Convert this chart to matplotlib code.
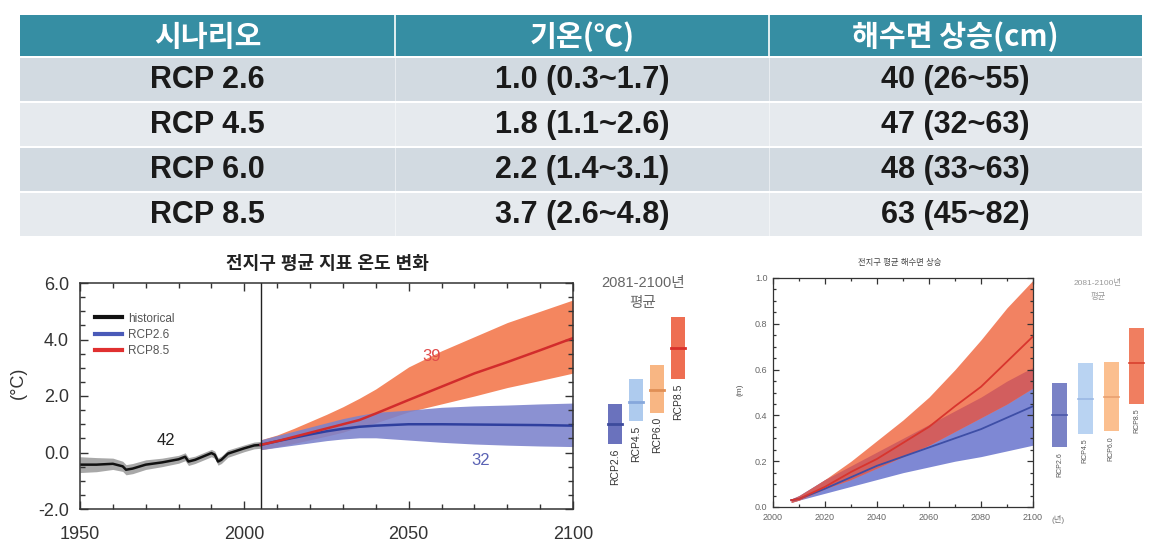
import matplotlib
matplotlib.use("Agg")
from matplotlib import pyplot as plt
from matplotlib.patches import Rectangle
from matplotlib.ticker import MultipleLocator, FormatStrFormatter
import numpy as np

plt.rcParams['font.family'] = ['Liberation Sans', 'Noto Sans CJK KR', 'DejaVu Sans']

W, H = 1171, 544

# table data
headers = ['시나리오', '기온(℃)', '해수면 상승(cm)']
scenarios = ['RCP 2.6', 'RCP 4.5', 'RCP 6.0', 'RCP 8.5']
temp_mean = [1.0, 1.8, 2.2, 3.7]
temp_lo = [0.3, 1.1, 1.4, 2.6]
temp_hi = [1.7, 2.6, 3.1, 4.8]
sea_mean = [40, 47, 48, 63]
sea_lo = [26, 32, 33, 45]
sea_hi = [55, 63, 63, 82]

bar_labels = ['RCP2.6', 'RCP4.5', 'RCP6.0', 'RCP8.5']

# temperature chart
hist_years = [1950, 1955, 1960, 1963, 1964, 1966, 1970, 1975, 1980, 1982, 1983, 1985,
              1990, 1991, 1992, 1993, 1995, 2000, 2003, 2005]
hist_mean = [-0.43, -0.43, -0.40, -0.49, -0.61, -0.57, -0.43, -0.35, -0.24, -0.15, -0.32, -0.26,
             -0.02, -0.08, -0.32, -0.26, -0.04, 0.15, 0.25, 0.27]
hist_lo = [-0.71, -0.68, -0.60, -0.67, -0.79, -0.75, -0.60, -0.50, -0.38, -0.29, -0.46, -0.39,
           -0.15, -0.21, -0.45, -0.39, -0.17, 0.03, 0.13, 0.15]
hist_hi = [-0.15, -0.18, -0.20, -0.31, -0.43, -0.39, -0.26, -0.20, -0.10, -0.01, -0.18, -0.13,
           0.11, 0.05, -0.19, -0.13, 0.09, 0.27, 0.37, 0.39]

proj_years = [2005, 2010, 2015, 2020, 2025, 2030, 2035, 2040, 2050, 2060, 2070, 2080, 2090, 2100]
rcp85_mean = [0.27, 0.40, 0.55, 0.70, 0.85, 1.00, 1.15, 1.38, 1.86, 2.33, 2.80, 3.20, 3.62, 4.05]
rcp85_hi = [0.45, 0.62, 0.85, 1.10, 1.35, 1.62, 1.92, 2.25, 3.03, 3.60, 4.10, 4.60, 5.00, 5.40]
rcp85_lo = [0.10, 0.20, 0.32, 0.45, 0.58, 0.72, 0.91, 1.05, 1.44, 1.72, 2.00, 2.30, 2.55, 2.81]
rcp26_mean = [0.27, 0.40, 0.52, 0.64, 0.75, 0.84, 0.91, 0.95, 1.00, 1.00, 0.99, 0.98, 0.97, 0.95]
rcp26_hi = [0.45, 0.60, 0.75, 0.90, 1.05, 1.20, 1.32, 1.42, 1.50, 1.60, 1.65, 1.68, 1.72, 1.75]
rcp26_lo = [0.10, 0.18, 0.26, 0.34, 0.42, 0.48, 0.52, 0.52, 0.44, 0.36, 0.30, 0.26, 0.23, 0.21]

# sea level chart
sl_years = [2007, 2010, 2020, 2030, 2040, 2050, 2060, 2070, 2080, 2090, 2100]
sl85_mean = [0.03, 0.035, 0.088, 0.153, 0.21, 0.28, 0.35, 0.44, 0.525, 0.635, 0.745]
sl85_hi = [0.035, 0.045, 0.12, 0.20, 0.29, 0.38, 0.48, 0.60, 0.73, 0.87, 0.99]
sl85_lo = [0.02, 0.03, 0.08, 0.12, 0.17, 0.22, 0.27, 0.33, 0.39, 0.45, 0.52]
sl26_mean = [0.03, 0.035, 0.08, 0.13, 0.18, 0.22, 0.26, 0.30, 0.34, 0.39, 0.44]
sl26_hi = [0.035, 0.05, 0.12, 0.18, 0.24, 0.30, 0.36, 0.42, 0.48, 0.55, 0.61]
sl26_lo = [0.02, 0.03, 0.06, 0.09, 0.12, 0.15, 0.175, 0.20, 0.22, 0.245, 0.27]
sl_bar_mean = [0.40, 0.47, 0.48, 0.63]
sl_bar_lo = [0.26, 0.32, 0.33, 0.45]
sl_bar_hi = [0.54, 0.63, 0.635, 0.78]

fig = plt.figure(figsize=(W / 100, H / 100), dpi=100)
fig.patch.set_facecolor('white')


def px_axes(x0, y0, x1, y1):
    return fig.add_axes([x0 / W, 1 - y1 / H, (x1 - x0) / W, (y1 - y0) / H])


def px_text(x, y, s, **kw):
    fig.text(x / W, 1 - y / H, s, **kw)


# ---- table ----
tab = px_axes(0, 0, W, H)
tab.set_xlim(0, W)
tab.set_ylim(H, 0)
tab.axis('off')

col_edges = [20, 395, 769, 1142]
col_centers = [(col_edges[i] + col_edges[i + 1]) / 2 for i in range(3)]
tab.add_patch(Rectangle((20, 15), 1122, 41, color='#368ea3', lw=0))
row_colors = ['#d2dae1', '#e6eaee', '#d2dae1', '#e6eaee']
for i in range(4):
    tab.add_patch(Rectangle((20, 58 + 45 * i), 1122, 43, color=row_colors[i], lw=0))
for xe in col_edges[1:3]:
    tab.plot([xe, xe], [15, 56], color='white', lw=1.2)
    tab.plot([xe, xe], [58, 236], color='white', lw=0.6, alpha=0.6)

for j, h in enumerate(headers):
    tab.text(col_centers[j], 37, h, ha='center', va='center', color='white',
             fontsize=21, fontweight='black', family=['Noto Sans CJK KR', 'DejaVu Sans'])

for i in range(4):
    y = 80 + 45 * i
    cells = [scenarios[i],
             f'{temp_mean[i]:.1f} ({temp_lo[i]:.1f}~{temp_hi[i]:.1f})',
             f'{sea_mean[i]} ({sea_lo[i]}~{sea_hi[i]})']
    for j, c in enumerate(cells):
        tab.text(col_centers[j], y, c, ha='center', va='center', color='#1a1a1a',
                 fontsize=22, fontweight='bold')

# ---- temperature chart ----
ax1 = px_axes(80, 283, 573, 509)
ax1.fill_between(hist_years, hist_lo, hist_hi, color='#a8a8a8', lw=0)
ax1.fill_between(proj_years, rcp85_lo, rcp85_hi, color='#f4865f', lw=0)
ax1.fill_between(proj_years, rcp26_lo, rcp26_hi, color='#7b82cc', alpha=0.88, lw=0)
ax1.plot(hist_years, hist_mean, color='#111111', lw=1.8)
ax1.plot(proj_years, rcp26_mean, color='#2f3f9e', lw=1.8)
ax1.plot(proj_years, rcp85_mean, color='#d22c2c', lw=1.8)
ax1.axvline(2005, color='#222222', lw=1)

ax1.plot([], [], color='#111111', lw=3, label='historical')
ax1.plot([], [], color='#4a5ab8', lw=3, label='RCP2.6')
ax1.plot([], [], color='#e03030', lw=3, label='RCP8.5')
hs, ls = ax1.get_legend_handles_labels()
ax1.legend(hs[-3:], ls[-3:], loc='upper left', bbox_to_anchor=(0.02, 0.89), frameon=False,
           fontsize=8.5, labelcolor='#555555', handlelength=2.3, handletextpad=0.5,
           labelspacing=0.35, borderaxespad=0)

ax1.text(1976, 0.44, '42', fontsize=12, color='#222222', ha='center', va='center')
ax1.text(2057, 3.4, '39', fontsize=12, color='#e04a4a', ha='center', va='center')
ax1.text(2072, -0.27, '32', fontsize=12, color='#5a62b4', ha='center', va='center')

ax1.set_xlim(1950, 2100)
ax1.set_ylim(-2, 6)
ax1.xaxis.set_major_locator(MultipleLocator(50))
ax1.xaxis.set_minor_locator(MultipleLocator(10))
ax1.yaxis.set_major_locator(MultipleLocator(2))
ax1.yaxis.set_minor_locator(MultipleLocator(0.5))
ax1.yaxis.set_major_formatter(FormatStrFormatter('%.1f'))
ax1.tick_params(which='both', direction='in', top=True, right=True, color='#333333', width=1)
ax1.tick_params(which='major', length=6, labelsize=13, labelcolor='#333333')
ax1.tick_params(axis='x', which='major', pad=12)
ax1.tick_params(axis='y', which='major', pad=8)
ax1.tick_params(which='minor', length=3.5)
for s in ax1.spines.values():
    s.set_color('#333333')
    s.set_linewidth(1.1)

px_text(327, 265, '전지구 평균 지표 온도 변화', ha='center', va='center', fontsize=13,
        fontweight='bold', color='#222222')
px_text(18, 383, '(°C)', ha='center', va='center', rotation=90, fontsize=13, color='#333333')

# side bars, temperature
bar_col1 = ['#6a72bd', '#aecbee', '#f8b683', '#ee6e52']
mean_col1 = ['#3d4b9c', '#86a8dc', '#e08f55', '#d9302a']
sb1 = px_axes(604.5, 283, 688.5, 509)
sb1.set_xlim(-0.5, 3.5)
sb1.set_ylim(-2, 6)
sb1.axis('off')
for i in range(4):
    sb1.bar(i, temp_hi[i] - temp_lo[i], bottom=temp_lo[i], width=0.67, color=bar_col1[i], lw=0)
    sb1.plot([i - 0.335, i + 0.335], [temp_mean[i], temp_mean[i]], color=mean_col1[i], lw=2)
    sb1.text(i, temp_lo[i] - 0.15, bar_labels[i], rotation=90, ha='center', va='top',
             fontsize=7.5, color='#333333')
px_text(643, 283, '2081-2100년', ha='center', va='center', fontsize=10.5, color='#666666')
px_text(643, 303, '평균', ha='center', va='center', fontsize=10.5, color='#666666')

# ---- sea level chart ----
ax2 = px_axes(773, 278, 1033, 507)
ax2.fill_between(sl_years, sl26_lo, sl26_hi, color='#7e88d4', lw=0)
ax2.fill_between(sl_years, sl85_lo, sl85_hi, color='#f28262', lw=0)
ax2.fill_between(sl_years, sl85_lo, sl26_hi, where=np.array(sl26_hi) > np.array(sl85_lo),
                 color='#d25e5e', lw=0, interpolate=True)
ax2.plot(sl_years, sl26_mean, color='#3e4ea6', lw=1.3)
ax2.plot(sl_years, sl85_mean, color='#d8352e', lw=1.3)
ax2.set_xlim(2000, 2100)
ax2.set_ylim(0, 1)
ax2.xaxis.set_major_locator(MultipleLocator(20))
ax2.xaxis.set_minor_locator(MultipleLocator(10))
ax2.yaxis.set_major_locator(MultipleLocator(0.2))
ax2.yaxis.set_minor_locator(MultipleLocator(0.05))
ax2.yaxis.set_major_formatter(FormatStrFormatter('%.1f'))
ax2.tick_params(which='both', direction='in', top=True, right=True, color='#333333', width=0.9)
ax2.tick_params(which='major', length=4, labelsize=6.5, labelcolor='#666666', pad=4)
ax2.tick_params(which='minor', length=2)
for s in ax2.spines.values():
    s.set_color('#333333')
    s.set_linewidth(0.9)

px_text(900, 263, '전지구 평균 해수면 상승', ha='center', va='center', fontsize=6,
        color='#444444')
px_text(740, 390, '(m)', ha='center', va='center', rotation=90, fontsize=6, color='#555555')
px_text(1058, 519, '(년)', ha='center', va='center', fontsize=6, color='#777777')

bar_col2 = ['#7a82c6', '#b9d3f2', '#fbbf8f', '#f07e60']
mean_col2 = ['#4a57a8', '#9ab8e4', '#e8a070', '#d8402e']
sb2 = px_axes(1046.6, 278, 1149.8, 507)
sb2.set_xlim(-0.5, 3.5)
sb2.set_ylim(0, 1)
sb2.axis('off')
for i in range(4):
    sb2.bar(i, sl_bar_hi[i] - sl_bar_lo[i], bottom=sl_bar_lo[i], width=0.58, color=bar_col2[i], lw=0)
    sb2.plot([i - 0.29, i + 0.29], [sl_bar_mean[i], sl_bar_mean[i]], color=mean_col2[i], lw=1.2)
    sb2.text(i, sl_bar_lo[i] - 0.02, bar_labels[i], rotation=90, ha='center', va='top',
             fontsize=5, color='#555555')
px_text(1098, 283, '2081-2100년', ha='center', va='center', fontsize=6, color='#999999')
px_text(1098, 297, '평균', ha='center', va='center', fontsize=6, color='#999999')

fig.savefig('out.png', dpi=100, facecolor='white')
